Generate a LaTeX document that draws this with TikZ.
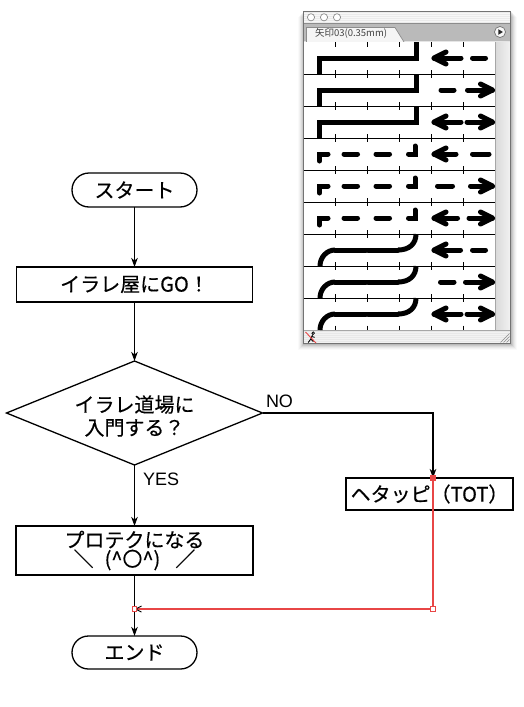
\documentclass[tikz,border=0pt]{standalone}
\usepackage{fontspec}
\setmainfont{Liberation Sans}
\newfontfamily\jpfont{Noto Sans CJK JP}
\newfontfamily\jpbfont[FakeBold=0.4]{Noto Sans CJK JP}
\usetikzlibrary{shapes.geometric,shapes.misc,arrows.meta}
\definecolor{selred}{RGB}{232,70,70}
\newcommand\pnlLA[2]{\draw[thk] (434,#1) -- (#2,#1); \draw[thk] (446,#1-6) -- (434,#1) -- (446,#1+6);}
\newcommand\pnlRA[2]{\draw[thk] (#2,#1) -- (492.5,#1); \draw[thk] (480.5,#1-6) -- (492.5,#1) -- (480.5,#1+6);}
\newcommand\pnlDash[3]{\draw[thk] (#2,#1) -- (#3,#1);}
\begin{document}
\begin{tikzpicture}[x=1pt,y=-1pt,
  every node/.style={inner sep=0pt,outer sep=0pt},
  jp/.style={font=\jpbfont\fontsize{20}{23}\selectfont},
  fbox/.style={draw,line width=1.3pt,jp,align=center},
  term/.style={fbox,rounded rectangle},
  conn/.style={line width=1.2pt,-{Stealth[length=9pt,width=6.5pt,inset=2.5pt]}},
  lbl/.style={font=\fontsize{18}{20}\selectfont,anchor=base west},
  thk/.style={line width=5pt,line cap=round,line join=round},
  sqr/.style={draw=selred,line width=0.8pt,fill=white,minimum size=4.5pt},
  tick/.style={line width=0.9pt},
]
\useasboundingbox (0,0) rectangle (523,707);
\fill[white] (0,0) rectangle (523,707);

% ---------- panel window ----------
\foreach \i/\o in {1/0.08,2/0.07,3/0.05,4/0.04,5/0.03,6/0.02}
  \fill[black,opacity=\o] (304-\i,11+\i) rectangle (511+\i,343+\i+1);
\fill[black!3] (303.5,11) rectangle (510.5,343);
\foreach \y in {12.5,14.5,...,22.5} \draw[black!8,line width=0.8pt] (303.5,\y) -- (510.5,\y);
\foreach \x in {311,324,337} \draw[black!45,fill=white,line width=0.7pt] (\x,17.3) circle (3.6);
\fill[black!27] (303.5,23) rectangle (510.5,41);
\draw[black!45,line width=0.6pt] (303.5,23) -- (510.5,23);
\draw[black!10,line width=1pt] (303.5,41.5) -- (510.5,41.5);
\draw[black!45,line width=0.7pt,fill=black!4] (306.5,42) -- (306.5,27.5) -- (395,27.5) -- (404,42);
\node[font=\jpfont\fontsize{9.5}{10}\selectfont,text=black!75,anchor=west] (tabtxt) at (315,33.5) {矢印03(0.35mm)};
\draw[black!55,line width=0.7pt,fill=black!3] (500,32) circle (5.5);
\fill[black!85] (498.3,29.2) -- (502.9,32) -- (498.3,34.8) -- cycle;
% content
\fill[white] (304,42) rectangle (495,330);
\shade[left color=black!15,right color=black!5] (495,42) rectangle (510.5,330);
\draw[black!35,line width=0.6pt] (495,42) -- (495,330);
% bottom bar
\fill[black!5] (303.5,330) rectangle (510.5,343);
\foreach \y in {331.5,333.5,...,341.5} \draw[black!9,line width=0.8pt] (303.5,\y) -- (510.5,\y);
\draw[black!35,line width=0.6pt] (303.5,330) -- (510.5,330);
\draw[black,line width=0.7pt] (313.2,333.2) circle (1.3);
\draw[black,line width=0.9pt] (312.6,334.6) -- (310.8,339) -- (308.2,342.5) (310.8,339) -- (313.4,341.6) (311.8,336.4) -- (314.6,337.4);
\draw[selred,line width=0.9pt] (305.5,332) -- (316,343);
\foreach \d in {3,6,9} \draw[black!45,line width=0.6pt] (509.5-\d,342.5) -- (509.5,342.5-\d);
\draw[black!55,line width=0.8pt] (303.5,11) rectangle (510.5,343);

% rows: separators and ticks
\foreach \y in {74,106,...,298} \draw[tick] (304,\y) -- (495,\y);
\foreach \x in {335,367,399,431,463} {
  \draw[tick] (\x,42) -- (\x,46.5);
  \foreach \y in {74,106,...,298} \draw[tick] (\x,\y-4) -- (\x,\y+4);
  \draw[tick] (\x,325.5) -- (\x,330);
}
% solid rows
\foreach \c in {58,90,122}
  \draw[line width=5pt,line join=miter,line cap=butt] (319.5,\c+16) -- (319.5,\c) -- (416,\c) -- (416,\c-16);
% dashed rows
\foreach \c in {154,186,218} {
  \draw[thk,line join=miter] (319.5,\c+7) -- (319.5,\c) -- (328,\c);
  \draw[thk] (344,\c) -- (357.5,\c);
  \draw[thk] (376,\c) -- (389.5,\c);
  \draw[thk,line join=miter] (408.5,\c) -- (415,\c) -- (415,\c-8);
}
% rounded rows
\foreach \c in {250,282,314} {
  \draw[line width=5pt,line cap=butt] (320,\c+16) .. controls (320,\c+7) and (327,\c) .. (335,\c);
  \draw[thk] (335,\c) -- (366,\c);
  \draw[thk] (368,\c) -- (398,\c);
  \draw[line width=5pt,line cap=butt] (398,\c) .. controls (409,\c) and (416,\c-6) .. (416,\c-16);
}
% arrows
\pnlLA{58}{461}\pnlDash{58}{472.5}{485.5}
\pnlDash{90}{441}{454}\pnlRA{90}{467.5}
\pnlLA{122}{461}\pnlRA{122}{467}
\pnlLA{154}{456}\pnlDash{154}{472.5}{489}
\pnlDash{186}{437.5}{452.5}\pnlRA{186}{470.5}
\pnlLA{218}{457.5}\pnlRA{218}{469}
\pnlLA{250}{460.5}\pnlDash{250}{472.5}{485.5}
\pnlDash{282}{440.5}{454}\pnlRA{282}{465.5}
\pnlLA{314}{461}\pnlRA{314}{467}

% ---------- flowchart ----------
\node[term,minimum width=125pt,minimum height=34pt] (start) at (134.5,190) {スタート};
\node[fbox,minimum width=236pt,minimum height=35pt] (go) at (134.5,284.5) {イラレ屋にGO！};
\node[draw,line width=1.3pt,diamond,aspect=2.46,minimum width=256pt,minimum height=104pt] (dia) at (134.5,413) {};
\node[jp,align=center] (diatxt) at (134.5,416) {イラレ道場に\\入門する？};
\node[fbox,minimum width=237pt,minimum height=49pt] (prot) at (134.5,550.5) {プロテクになる\\[-4pt]＼\hspace{11pt}(\textasciicircum〇\textasciicircum)\hspace{15pt}／};
\node[fbox,minimum width=167pt,minimum height=32pt] (hetappi) at (429.5,494) {ヘタッピ（TOT）};
\node[term,minimum width=125pt,minimum height=33pt] (end) at (134.5,652.5) {エンド};

\node[lbl] (nolbl) at (266,407) {NO};
\node[lbl] (yeslbl) at (143,485) {YES};

\draw[conn] (start.south) -- (go.north);
\draw[conn] (go.south) -- (dia.north);
\draw[conn] (dia.south) -- (prot.north);
\coordinate (noin) at (433,0 |- hetappi.north);
\draw[conn] (dia.east) -| (noin);
\draw[conn] (prot.south) -- (end.north);
\coordinate (jn) at (prot.south |- 0,609);
\coordinate (bend) at (noin |- jn);
\draw[black!45,line width=1.3pt] (noin) -- (bend);
\draw[selred,line width=1.1pt,-{Straight Barb[length=6pt,width=6pt,color=black,line width=0.9pt]}] (noin) -- (bend) -- (jn);
\node[sqr,fill=selred] (sqa) at (noin) {};
\node[sqr] (sqb) at (bend) {};
\node[sqr] (sqc) at (jn) {};
\end{tikzpicture}
\end{document}
